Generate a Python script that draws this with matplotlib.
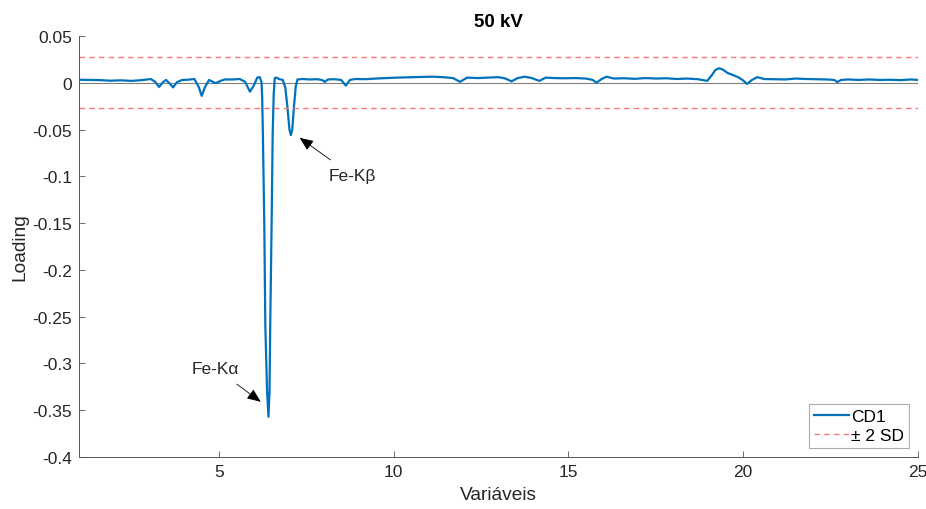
import matplotlib
matplotlib.use('Agg')
import matplotlib.pyplot as plt

plt.rcParams['font.family'] = ['Liberation Sans', 'DejaVu Sans']
plt.rcParams['axes.unicode_minus'] = False

# valores (loading CD1)
variaveis = [1.0, 1.3, 1.6, 1.9, 2.2, 2.5, 2.8, 3.05, 3.18, 3.29, 3.40, 3.49, 3.60, 3.69, 3.80,
             3.95, 4.10, 4.30, 4.42, 4.51, 4.60, 4.72, 4.91, 5.05, 5.17, 5.40, 5.60, 5.75, 5.89,
             6.00, 6.10, 6.17, 6.22, 6.24, 6.26, 6.30, 6.33, 6.38, 6.42, 6.45, 6.47, 6.51, 6.54,
             6.57, 6.60, 6.65, 6.72, 6.83, 6.90, 6.96, 7.02, 7.06, 7.10, 7.15, 7.20, 7.25, 7.40,
             7.60, 7.80, 7.95, 8.03, 8.12, 8.30, 8.50, 8.63, 8.75, 8.90, 9.2, 9.5, 9.8, 10.1,
             10.4, 10.7, 11.1, 11.4, 11.7, 11.9, 12.1, 12.4, 12.7, 13.0, 13.2, 13.37, 13.55,
             13.75, 13.95, 14.17, 14.35, 14.6, 14.9, 15.2, 15.5, 15.7, 15.8, 15.95, 16.09, 16.3,
             16.6, 16.9, 17.2, 17.5, 17.8, 18.1, 18.4, 18.7, 18.97, 19.1, 19.2, 19.31, 19.42,
             19.55, 19.69, 19.85, 19.98, 20.11, 20.25, 20.4, 20.6, 20.9, 21.2, 21.5, 21.8, 22.1,
             22.4, 22.6, 22.69, 22.8, 23.0, 23.3, 23.6, 23.9, 24.2, 24.5, 24.8, 25.0]
cd1 = [0.0032, 0.0030, 0.0028, 0.0022, 0.0026, 0.0020, 0.0028, 0.0040, 0.0010, -0.0045, 0.0005,
       0.0030, -0.0010, -0.0050, 0.0005, 0.0030, 0.0032, 0.0040, -0.0040, -0.0140, -0.0050,
       0.0030, -0.0005, 0.0020, 0.0035, 0.0035, 0.0040, 0.0010, -0.0095, -0.0030, 0.0055,
       0.0060, 0.0010, -0.0150, -0.0550, -0.1500, -0.2600, -0.3300, -0.3570, -0.3300, -0.2600,
       -0.1500, -0.0550, -0.0120, 0.0050, 0.0055, 0.0040, 0.0030, -0.0050, -0.0250, -0.0500,
       -0.0560, -0.0500, -0.0250, -0.0040, 0.0035, 0.0040, 0.0035, 0.0038, 0.0030, 0.0010,
       0.0035, 0.0038, 0.0030, -0.0030, 0.0030, 0.0040, 0.0038, 0.0045, 0.0050, 0.0055,
       0.0058, 0.0060, 0.0065, 0.0060, 0.0050, 0.0010, 0.0055, 0.0050, 0.0055, 0.0060,
       0.0045, 0.0015, 0.0050, 0.0065, 0.0050, 0.0020, 0.0055, 0.0050, 0.0048, 0.0050,
       0.0045, 0.0030, 0.0000, 0.0040, 0.0065, 0.0045, 0.0048, 0.0042, 0.0050, 0.0045,
       0.0048, 0.0040, 0.0045, 0.0038, 0.0020, 0.0080, 0.0135, 0.0155, 0.0140, 0.0105,
       0.0085, 0.0060, 0.0030, -0.0012, 0.0030, 0.0060, 0.0040, 0.0038, 0.0035, 0.0045,
       0.0040, 0.0038, 0.0035, 0.0030, 0.0008, 0.0030, 0.0035, 0.0030, 0.0035, 0.0030,
       0.0032, 0.0028, 0.0035, 0.0030]

sd_sup = 0.0278
sd_inf = -0.0270

# picos anotados: texto, ponta da seta, posicao do texto
picos = ['Fe-K\u03b1', 'Fe-K\u03b2']
ponta = [(6.20, -0.341), (7.31, -0.0588)]
pos_texto = [(4.89, -0.305), (8.83, -0.0995)]

fig = plt.figure(figsize=(9.26, 5.10), dpi=100)
ax = fig.add_axes([0.0853, 0.102, 0.9061, 0.8255])

ax.plot([1, 25], [0, 0], color='0.5', lw=0.8)
ax.plot(variaveis, cd1, color='#0072BD', lw=1.6, label='CD1')
ax.plot([1, 25], [sd_sup, sd_sup], '--', color='#ff7878', lw=1.0, dashes=(4, 3), label='\u00b1 2 SD')
ax.plot([1, 25], [sd_inf, sd_inf], '--', color='#ff7878', lw=1.0, dashes=(4, 3))

for nome, p, t in zip(picos, ponta, pos_texto):
    ax.annotate(nome, xy=p, xytext=t, ha='center', va='center', fontsize=12.5, color='#262626',
                arrowprops=dict(arrowstyle='-|>,head_length=0.6,head_width=0.25', color='black',
                                lw=0.6, mutation_scale=14, shrinkA=7, shrinkB=0))

ax.set_xlim(1, 25)
ax.set_ylim(-0.4, 0.05)
ax.set_xticks([5, 10, 15, 20, 25])
ax.set_yticks([-0.4, -0.35, -0.3, -0.25, -0.2, -0.15, -0.1, -0.05, 0, 0.05])
ax.set_yticklabels(['-0.4', '-0.35', '-0.3', '-0.25', '-0.2', '-0.15', '-0.1', '-0.05', '0', '0.05'])

for lado in ['top', 'right']:
    ax.spines[lado].set_visible(False)
for lado in ['left', 'bottom']:
    ax.spines[lado].set_color('#555555')
    ax.spines[lado].set_linewidth(0.7)
ax.tick_params(direction='in', length=4, width=0.6, colors='#555555', labelcolor='#262626',
               labelsize=12.5, pad=5)

ax.set_title('50 kV', fontsize=13.5, fontweight='bold', color='black', pad=7)
ax.set_xlabel('Vari\u00e1veis', fontsize=13.8, color='#262626', labelpad=5)
ax.set_ylabel('Loading', fontsize=13.8, color='#262626', labelpad=3)

leg = ax.legend(loc='lower right', fontsize=12.5, frameon=True, fancybox=False,
                handlelength=2.0, borderaxespad=0.5, borderpad=0.3, labelspacing=0.2,
                handletextpad=0.15)
leg.get_frame().set_edgecolor('0.6')
leg.get_frame().set_linewidth(0.8)

fig.savefig('out.png', dpi=100)
